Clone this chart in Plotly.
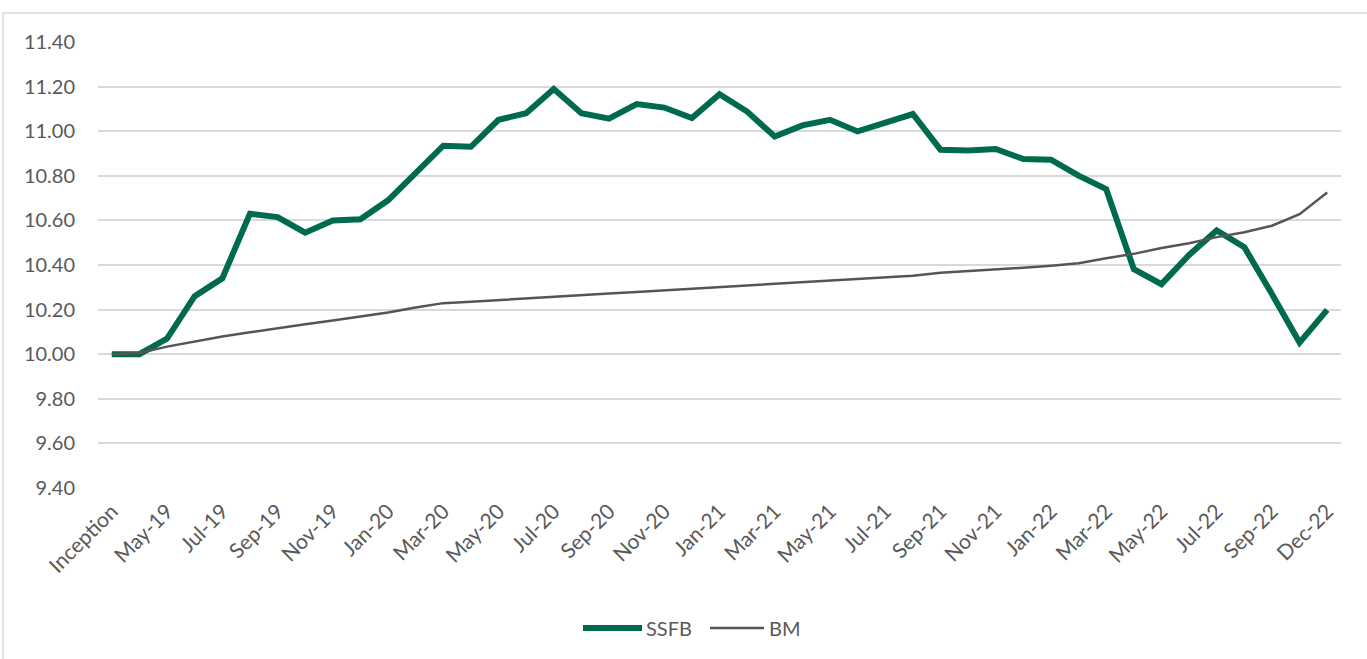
import plotly.graph_objects as go

categories = ["Inception", "Apr-19", "May-19", "Jun-19", "Jul-19", "Aug-19", "Sep-19", "Oct-19",
              "Nov-19", "Dec-19", "Jan-20", "Feb-20", "Mar-20", "Apr-20", "May-20", "Jun-20",
              "Jul-20", "Aug-20", "Sep-20", "Oct-20", "Nov-20", "Dec-20", "Jan-21", "Feb-21",
              "Mar-21", "Apr-21", "May-21", "Jun-21", "Jul-21", "Aug-21", "Sep-21", "Oct-21",
              "Nov-21", "Dec-21", "Jan-22", "Feb-22", "Mar-22", "Apr-22", "May-22", "Jun-22",
              "Jul-22", "Aug-22", "Sep-22", "Nov-22", "Dec-22"]

ssfb = [10.00, 10.00, 10.07, 10.26, 10.34, 10.63, 10.615, 10.545, 10.60, 10.605,
        10.69, 10.81, 10.935, 10.93, 11.051, 11.081, 11.189, 11.081, 11.056, 11.122,
        11.106, 11.059, 11.166, 11.088, 10.976, 11.026, 11.051, 10.999, 11.037, 11.077,
        10.917, 10.914, 10.920, 10.875, 10.872, 10.801, 10.740, 10.381, 10.314, 10.445,
        10.555, 10.480, 10.27, 10.052, 10.199]

bm = [10.00, 10.005, 10.034, 10.057, 10.079, 10.098, 10.117, 10.134, 10.151, 10.169,
      10.187, 10.209, 10.229, 10.235, 10.243, 10.250, 10.258, 10.265, 10.272, 10.279,
      10.286, 10.293, 10.300, 10.308, 10.316, 10.323, 10.330, 10.337, 10.344, 10.352,
      10.365, 10.372, 10.380, 10.388, 10.397, 10.408, 10.430, 10.450, 10.476, 10.498,
      10.525, 10.547, 10.576, 10.628, 10.725]

series_names = ["SSFB", "BM"]
series_colors = ["#006a4e", "#555555"]
series_widths = [6, 2.5]

y_ticks = [9.40, 9.60, 9.80, 10.00, 10.20, 10.40, 10.60, 10.80, 11.00, 11.20, 11.40]
x_tick_labels = categories[::2]

FONT = "Lato"
TXT = "#595959"

fig = go.Figure()
for name, vals, col, w in zip(series_names, [ssfb, bm], series_colors, series_widths):
    fig.add_trace(go.Scatter(x=categories, y=vals, mode="lines", name=name,
                             line=dict(color=col, width=w), showlegend=False))

L, R, T, B = 98, 26, 42, 171
W, H = 1367, 659
pw, ph = W - L - R, H - T - B
fx = lambda px: (px - L) / pw
fy = lambda py: (H - B - py) / ph

shapes = [dict(type="rect", xref="paper", yref="paper",
               x0=fx(3), x1=fx(1400), y0=fy(700), y1=fy(13),
               line=dict(color="#d9d9d9", width=1.5), fillcolor="rgba(0,0,0,0)",
               layer="below")]
annotations = []
# custom legend (symbol line + label)
leg_y = 628
leg_items = [(583, 642, 644), (710, 764, 767)]
for (x0, x1, tx), name, col, w in zip(leg_items, series_names, series_colors, series_widths):
    shapes.append(dict(type="line", xref="paper", yref="paper",
                       x0=fx(x0), x1=fx(x1), y0=fy(leg_y), y1=fy(leg_y),
                       line=dict(color=col, width=w)))
    annotations.append(dict(xref="paper", yref="paper", x=fx(tx), y=fy(leg_y),
                            xanchor="left", yanchor="middle", text=name, showarrow=False,
                            font=dict(family=FONT, size=20, color=TXT)))

fig.update_layout(
    width=W, height=H,
    margin=dict(l=L, r=R, t=T, b=B, pad=0, autoexpand=False),
    paper_bgcolor="white", plot_bgcolor="white",
    font=dict(family=FONT, color=TXT, size=20),
    showlegend=False,
    xaxis=dict(type="category", range=[-0.5, len(categories) - 0.5], automargin=False,
               tickmode="array", tickvals=x_tick_labels, ticktext=x_tick_labels,
               tickangle=-45, showgrid=False, zeroline=False, showline=False,
               ticks="", ticklabelstandoff=6, tickfont=dict(size=21, color=TXT)),
    yaxis=dict(range=[9.4, 11.4], tickmode="array", tickvals=y_ticks, automargin=False,
               ticktext=[f"{v:.2f}" for v in y_ticks],
               showgrid=True, gridcolor="#d9d9d9", gridwidth=1.5,
               zeroline=False, showline=False, ticks="",
               ticklabelstandoff=22, tickfont=dict(size=20, color=TXT)),
    shapes=shapes,
    annotations=annotations,
)

fig.write_html("out.html", config={"displayModeBar": False},
               post_script="document.body.style.margin='0';document.body.style.padding='0';")
